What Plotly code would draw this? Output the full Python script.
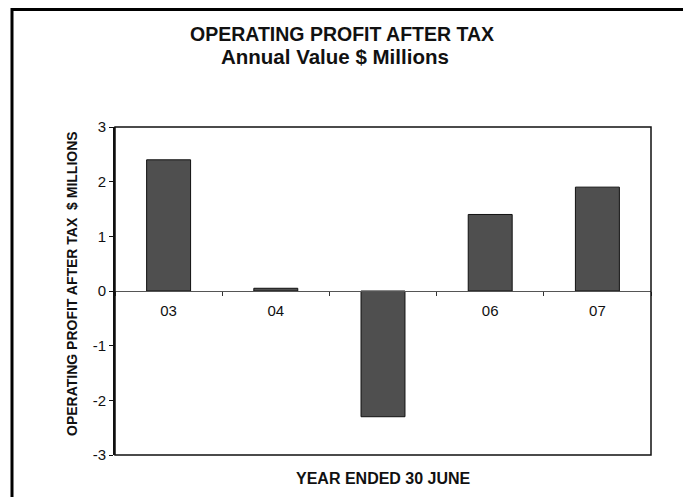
import plotly.graph_objects as go

# Data
years = ['03', '04', '05', '06', '07']
year_labels = ['03', '04', '', '06', '07']  # '05' label is hidden behind the negative bar
profit = [2.4, 0.05, -2.3, 1.4, 1.9]
y_ticks = [-3, -2, -1, 0, 1, 2, 3]
y_tick_labels = ['-3', '-2', '-1', '0', '1', '2', '3']

# the page body adds an 8px offset, so screen positions are shifted by OFF
OFF = 8
W, H = 691, 497
L, T = 115 - OFF, 127 - OFF
pw, ph = 536, 328
R = W - L - pw
B = H - T - ph


def px(x):
    return (x - OFF - L) / pw


def py(y):
    return (T + ph - (y - OFF)) / ph


font_main = 'Liberation Sans, Arial, sans-serif'
font_narrow = 'Liberation Sans Narrow, Arial Narrow, Liberation Sans, Arial, sans-serif'

fig = go.Figure()

fig.add_trace(go.Bar(
    x=years,
    y=profit,
    marker=dict(color='#4f4f4f', line=dict(color='#111111', width=1)),
    width=0.41,
    hovertemplate='%{x}: %{y}<extra></extra>',
))

fig.update_layout(
    width=W, height=H,
    margin=dict(l=L, r=R, t=T, b=B),
    plot_bgcolor='white',
    paper_bgcolor='white',
    showlegend=False,
    font=dict(family=font_main, color='#111111'),
)

fig.update_xaxes(
    type='category',
    tickmode='array',
    tickvals=years,
    ticktext=year_labels,
    tickson='boundaries',
    anchor='free',
    position=0.5,
    showline=True,
    linecolor='#555555',
    linewidth=1,
    ticks='outside',
    ticklen=4,
    tickcolor='#333333',
    ticklabelstandoff=6,
    showgrid=False,
    zeroline=False,
    tickfont=dict(size=15, color='#111111'),
)

fig.update_yaxes(
    range=[-3, 3],
    tickmode='array',
    tickvals=y_ticks,
    ticktext=y_tick_labels,
    showline=True,
    linecolor='#111111',
    linewidth=2,
    ticks='outside',
    ticklen=4,
    tickcolor='#111111',
    showgrid=False,
    zeroline=False,
    tickfont=dict(size=15, color='#111111'),
)

shapes = [
    # plot area frame
    dict(type='rect', xref='paper', yref='paper', x0=0, x1=1, y0=0, y1=1,
         line=dict(color='#111111', width=1.5), layer='above'),
    # outer page frame
    dict(type='rect', xref='paper', yref='paper',
         x0=px(12), x1=px(686), y0=py(520), y1=py(9.5),
         line=dict(color='#000000', width=3)),
]
fig.update_layout(shapes=shapes)

annotations = [
    dict(text='<b>OPERATING PROFIT AFTER TAX</b>', x=px(342), y=py(34),
         font=dict(size=19.5, family=font_main)),
    dict(text='<b>Annual Value $ Millions</b>', x=px(335), y=py(56.5),
         font=dict(size=20.5, family=font_main)),
    dict(text='<b>YEAR ENDED 30 JUNE</b>', x=px(383), y=py(478),
         font=dict(size=16, family=font_main)),
    dict(text='<b>OPERATING PROFIT AFTER TAX  $ MILLIONS</b>', x=px(72), y=py(284),
         textangle=-90, font=dict(size=14, family=font_narrow)),
]
for a in annotations:
    a.update(xref='paper', yref='paper', showarrow=False,
             xanchor='center', yanchor='middle')
fig.update_layout(annotations=annotations)

fig.write_html('out.html')
